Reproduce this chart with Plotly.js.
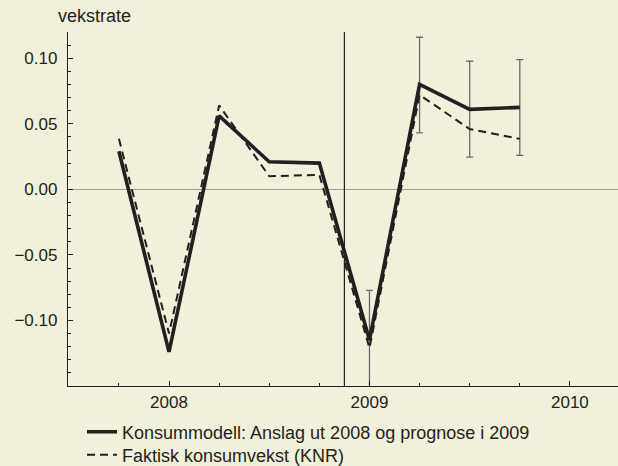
<!DOCTYPE html>
<html>
<head>
<meta charset="utf-8">
<script src="https://cdn.plot.ly/plotly-3.0.1.min.js"></script>
<style>
  html, body { margin: 0; padding: 0; background: #f1f0da; }
  #chart { width: 618px; height: 466px; }
</style>
</head>
<body>
<div id="chart"></div>
<script>
// Quarters as decimal years (2007 Q4 ... 2009 Q4)
const quarters = [2007.75, 2008.0, 2008.25, 2008.5, 2008.75, 2009.0, 2009.25, 2009.5, 2009.75];
const modelValues = [0.029, -0.124, 0.056, 0.021, 0.020, -0.115, 0.080, 0.061, 0.0625];
const actualValues = [0.0385, -0.110, 0.064, 0.010, 0.011, -0.121, 0.072, 0.046, 0.0385];

// Forecast intervals for 2009
const forecastQuarters = [2009.0, 2009.25, 2009.5, 2009.75];
const forecastCenter = [-0.115, 0.080, 0.061, 0.0625];
const intervalUpper = [-0.077, 0.116, 0.0977, 0.099];
const intervalLower = [-0.155, 0.043, 0.0246, 0.0259];

const splitYear = 2008.875;
const yTicks = [0.10, 0.05, 0.00, -0.05, -0.10];
const xTicks = [2008, 2009, 2010];

const modelName = 'Konsummodell: Anslag ut 2008 og prognose i 2009';
const actualName = 'Faktisk konsumvekst (KNR)';

const ink = '#231f20';
const bg = '#f1f0da';

const traces = [
  {
    x: forecastQuarters,
    y: forecastCenter,
    type: 'scatter',
    mode: 'markers',
    marker: { size: 1, opacity: 0 },
    showlegend: false,
    hoverinfo: 'skip',
    error_y: {
      type: 'data',
      symmetric: false,
      array: intervalUpper.map((u, i) => u - forecastCenter[i]),
      arrayminus: forecastCenter.map((c, i) => c - intervalLower[i]),
      color: '#6b6b6b',
      thickness: 1.3,
      width: 3.5
    }
  },
  {
    x: quarters,
    y: actualValues,
    type: 'scatter',
    mode: 'lines',
    name: actualName,
    legend: 'legend2',
    line: { color: ink, width: 2, dash: '8px,5px' }
  },
  {
    x: quarters,
    y: modelValues,
    type: 'scatter',
    mode: 'lines',
    name: modelName,
    legend: 'legend',
    line: { color: ink, width: 3.6 }
  }
];

const legendX = (82 - 68) / 550;
const layout = {
  width: 618,
  height: 466,
  paper_bgcolor: bg,
  plot_bgcolor: bg,
  font: { family: 'Liberation Sans, Arial, sans-serif', size: 17, color: ink },
  margin: { l: 68, r: 0, t: 32, b: 80, pad: 0, autoexpand: false },
  showlegend: true,
  legend: {
    x: legendX, y: (386 - 413.5) / 354,
    xanchor: 'left', yanchor: 'top',
    bgcolor: 'rgba(0,0,0,0)',
    font: { size: 18, color: ink }
  },
  legend2: {
    x: legendX, y: (386 - 436.5) / 354,
    xanchor: 'left', yanchor: 'top',
    bgcolor: 'rgba(0,0,0,0)',
    font: { size: 18, color: ink }
  },
  xaxis: {
    range: [2007.496, 2010.24],
    tickvals: xTicks,
    ticktext: xTicks.map(String),
    tickangle: 0,
    ticks: 'inside',
    ticklen: 5,
    tickcolor: ink,
    tickwidth: 1,
    minor: { dtick: 0.25, tick0: 2008, ticks: 'inside', ticklen: 3, tickcolor: ink, showgrid: false },
    showline: true,
    linecolor: ink,
    linewidth: 1.2,
    showgrid: false,
    zeroline: false,
    ticklabelstandoff: 0,
    fixedrange: true
  },
  yaxis: {
    range: [-0.15, 0.12],
    tickvals: yTicks,
    tickformat: '.2f',
    ticks: 'inside',
    ticklen: 5,
    tickcolor: ink,
    tickwidth: 1,
    minor: { dtick: 0.01, tick0: 0, ticks: 'inside', ticklen: 3, tickcolor: ink, showgrid: false },
    showline: true,
    linecolor: ink,
    linewidth: 1.2,
    showgrid: false,
    zeroline: true,
    zerolinecolor: '#a09f94',
    zerolinewidth: 1.2,
    ticklabelstandoff: 6,
    fixedrange: true
  },
  shapes: [
    {
      type: 'line', xref: 'x', yref: 'paper',
      x0: splitYear, x1: splitYear, y0: 0, y1: 1,
      line: { color: ink, width: 1.2 }
    }
  ],
  annotations: [
    {
      text: 'vekstrate',
      xref: 'paper', yref: 'paper',
      x: (56 - 68) / 550, y: 1 + 16 / 354,
      xanchor: 'left', yanchor: 'middle',
      showarrow: false,
      font: { size: 18, color: ink }
    }
  ]
};

Plotly.newPlot('chart', traces, layout, { displayModeBar: false, staticPlot: true });
</script>
</body>
</html>
